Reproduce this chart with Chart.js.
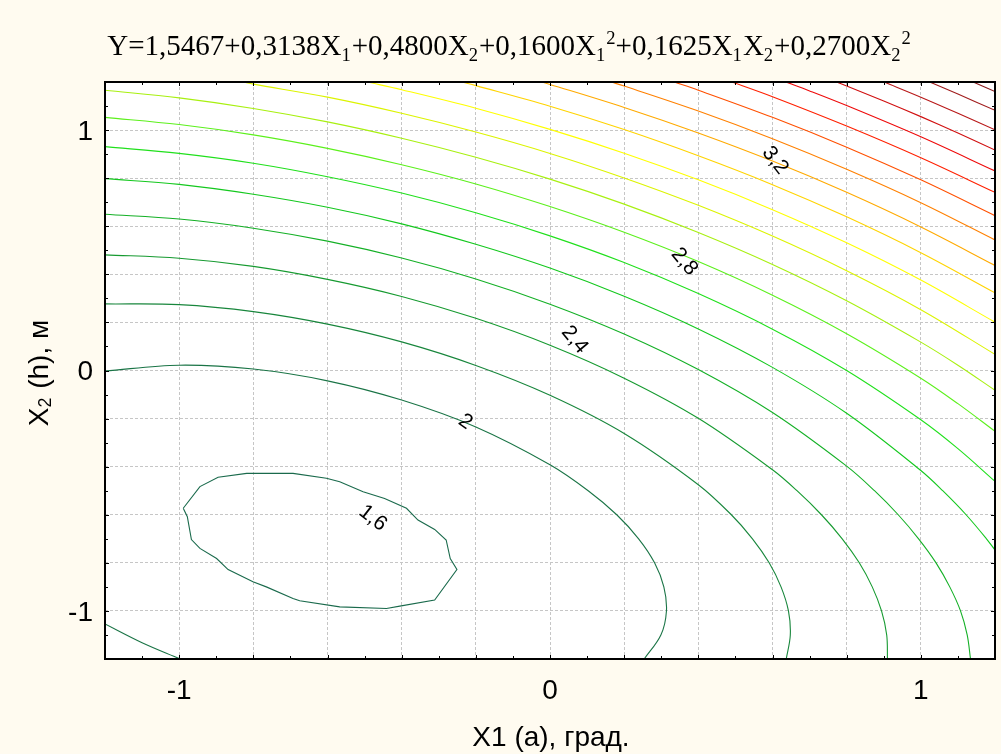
<!DOCTYPE html>
<html><head><meta charset="utf-8">
<script src="https://cdn.jsdelivr.net/npm/chart.js@4.4.1/dist/chart.umd.min.js"></script>
<style>html,body{margin:0;padding:0;background:#fffbf0;}canvas{display:block;}</style>
</head><body>
<canvas id="c" width="1001" height="754"></canvas>
<script>
// ---------- data ----------
const xTickLabels = [-1, 0, 1];
const yTickLabels = [-1, 0, 1];
const levels = [1.3, 1.4, 1.4, 1.5, 1.6, 1.7, 1.8, 1.9, 2.0, 2.1, 2.2, 2.3, 2.4, 2.5, 2.6, 2.7, 2.8, 2.9, 3.0, 3.1, 3.2, 3.3];

const c13 = [[-0.989,-0.573],[-0.944,-0.483],[-0.895,-0.444],[-0.818,-0.428],[-0.693,-0.428],[-0.603,-0.448],[-0.567,-0.463],[-0.504,-0.504],[-0.446,-0.532],[-0.387,-0.573],[-0.356,-0.622],[-0.311,-0.661],[-0.280,-0.705],[-0.269,-0.782],[-0.251,-0.828],[-0.311,-0.955],[-0.405,-0.980],[-0.441,-0.990],[-0.567,-0.983],[-0.675,-0.958],[-0.693,-0.948],[-0.765,-0.900],[-0.801,-0.879],[-0.868,-0.828],[-0.899,-0.782],[-0.944,-0.740],[-0.967,-0.703],[-0.978,-0.608],[-0.989,-0.573]];
const c14a = [[-1.2,-0.002],[-1.0,0.022],[-0.8,0.006],[-0.6,-0.043],[-0.4,-0.123],[-0.2,-0.235],[0,-0.392],[0.103,-0.5],[0.180,-0.6],[0.239,-0.7],[0.282,-0.8],[0.307,-0.9],[0.314,-1.0],[0.299,-1.1],[0.254,-1.2]];
const c14b = [[-1.2,-1.054],[-1.1,-1.132],[-1.0,-1.198],[-0.997,-1.2]];
const c15 = [[-1.2,0.277],[-1.0,0.274],[-0.8,0.245],[-0.6,0.193],[-0.4,0.119],[-0.2,0.021],[0,-0.103],[0.2,-0.262],[0.4,-0.475],[0.489,-0.6],[0.546,-0.7],[0.591,-0.8],[0.623,-0.9],[0.643,-1.0],[0.648,-1.1],[0.637,-1.2]];
const c16 = [[-1.2,0.481],[-1.0,0.467],[-0.8,0.433],[-0.6,0.379],[-0.4,0.308],[-0.2,0.217],[0,0.105],[0.2,-0.032],[0.4,-0.199],[0.6,-0.413],[0.666,-0.5],[0.732,-0.6],[0.788,-0.7],[0.834,-0.8],[0.869,-0.9],[0.894,-1.0],[0.908,-1.1],[0.910,-1.2]];
const c17 = [[-1.2,0.650],[-1.0,0.630],[-0.8,0.592],[-0.6,0.538],[-0.4,0.468],[-0.2,0.381],[0,0.276],[0.2,0.152],[0.4,0.004],[0.6,-0.175],[0.8,-0.398],[0.875,-0.5],[0.939,-0.6],[0.994,-0.7],[1.041,-0.8],[1.078,-0.9],[1.107,-1.0],[1.125,-1.1],[1.134,-1.2]];
const c18 = [[-1.2,0.798],[-1.0,0.774],[-0.8,0.733],[-0.6,0.679],[-0.4,0.610],[-0.2,0.525],[0,0.426],[0.2,0.309],[0.4,0.173],[0.6,0.013],[0.8,-0.178],[1.0,-0.416],[1.059,-0.5],[1.122,-0.6],[1.177,-0.7],[1.2,-0.747]];
const c19 = [[-1.2,0.931],[-1.0,0.903],[-0.8,0.862],[-0.6,0.806],[-0.4,0.738],[-0.2,0.656],[0,0.560],[0.2,0.449],[0.4,0.320],[0.6,0.172],[0.8,0.000],[1.0,-0.205],[1.1,-0.325],[1.2,-0.461]];
const c20 = [[-1.2,1.053],[-1.0,1.023],[-0.8,0.980],[-0.6,0.924],[-0.4,0.856],[-0.2,0.776],[0,0.682],[0.2,0.575],[0.4,0.453],[0.6,0.313],[0.8,0.153],[1.0,-0.032],[1.1,-0.138],[1.2,-0.253]];
const c21 = [[-1.2,1.166],[-1.0,1.134],[-0.8,1.090],[-0.6,1.034],[-0.4,0.966],[-0.2,0.887],[0,0.796],[0.2,0.692],[0.4,0.574],[0.6,0.441],[0.8,0.290],[1.0,0.118],[1.1,0.022],[1.2,-0.082]];
const c22 = [[-0.828,1.2],[-0.8,1.191],[-0.6,1.137],[-0.4,1.070],[-0.2,0.992],[0,0.903],[0.2,0.801],[0.4,0.687],[0.6,0.559],[0.8,0.415],[1.0,0.253],[1.2,0.067]];
const c23 = [[-0.492,1.2],[-0.4,1.168],[-0.2,1.091],[0,1.003],[0.2,0.904],[0.4,0.793],[0.6,0.669],[0.8,0.531],[1.0,0.376],[1.2,0.201]];
const c24 = [[-0.237,1.2],[-0.2,1.185],[0,1.099],[0.2,1.002],[0.4,0.893],[0.6,0.773],[0.8,0.639],[1.0,0.490],[1.2,0.323]];
const c25 = [[-0.023,1.2],[0,1.190],[0.2,1.094],[0.4,0.988],[0.6,0.871],[0.8,0.741],[1.0,0.597],[1.2,0.437]];
const c26 = [[0.165,1.2],[0.2,1.183],[0.4,1.079],[0.6,0.964],[0.8,0.837],[1.0,0.698],[1.2,0.543]];
const c27 = [[0.335,1.2],[0.4,1.166],[0.6,1.053],[0.8,0.929],[1.0,0.793],[1.2,0.644]];
const c28 = [[0.491,1.2],[0.6,1.139],[0.8,1.017],[1.0,0.885],[1.2,0.741]];
const c29 = [[0.636,1.2],[0.7,1.163],[0.8,1.102],[1.0,0.972],[1.2,0.830]];
const c30 = [[0.773,1.2],[0.8,1.183],[0.9,1.121],[1.0,1.056],[1.1,0.988],[1.2,0.917]];
const c31 = [[0.901,1.2],[1.0,1.137],[1.1,1.070],[1.2,1.001]];
const c32 = [[1.024,1.2],[1.1,1.150],[1.2,1.082]];
const c33 = [[1.141,1.2],[1.2,1.160]];
const contourPoints = [c13, c14a, c14b, c15, c16, c17, c18, c19, c20, c21, c22, c23, c24, c25, c26, c27, c28, c29, c30, c31, c32, c33];

const labelTexts = ['1,6', '2', '2,4', '2,8', '3,2'];
const labelX = [-0.478, -0.228, 0.066, 0.362, 0.607];
const labelY = [-0.614, -0.214, 0.128, 0.453, 0.874];

const titleParts = [['Y=1,5467+0,3138X',0],['1',1],['+0,4800X',0],['2',1],['+0,1600X',0],['1',1],['2',2],['+0,1625X',0],['1',1],['X',0],['2',1],['+0,2700X',0],['2',1],['2',2]];
const xTitle = 'X1 (a), град.';
const yTitleParts = [['X',0],['2',1],[' (h), м',0]];

// ---------- styles ----------
const levelColor = {
  '1.3':'#1a6a4c','1.4':'#1a7446','1.5':'#18863c','1.6':'#169a30','1.7':'#14b026','1.8':'#14c81e',
  '1.9':'#20e01c','2.0':'#5cf01c','2.1':'#a8f010','2.2':'#dcf400','2.3':'#ffff00','2.4':'#ffd400',
  '2.5':'#ffaa00','2.6':'#ff8000','2.7':'#ff5000','2.8':'#ff2000','2.9':'#ee0a0a','3.0':'#d01010',
  '3.1':'#b81818','3.2':'#a01c1c','3.3':'#8a1c1c'
};
const BG = '#fffbf0';
const SANS = '"Liberation Sans", Arial, sans-serif';
const SERIF = '"Liberation Serif", "Times New Roman", serif';

const datasets = contourPoints.map((pts, i) => ({
  data: pts.map(p => ({x: p[0], y: p[1]})),
  showLine: true,
  borderColor: levelColor[levels[i].toFixed(1)],
  borderWidth: 1.1,
  pointRadius: 0,
  pointHoverRadius: 0,
  tension: i === 0 ? 0 : 0.35,
  fill: false
}));

function drawRich(ctx, parts, size, family, draw) {
  let x = 0;
  parts.forEach(([t, m]) => {
    const s = m === 0 ? size : size * 0.64;
    ctx.font = s + 'px ' + family;
    const dy = m === 1 ? size * 0.2 : (m === 2 ? -size * 0.38 : 0);
    if (draw) ctx.fillText(t, x, dy);
    x += ctx.measureText(t).width + (m === 1 ? 1 : 0);
  });
  return x;
}

const deco = {
  id: 'deco',
  beforeDraw(chart) {
    const {ctx, chartArea: a} = chart;
    ctx.save();
    ctx.fillStyle = BG;
    ctx.fillRect(0, 0, chart.width, chart.height);
    ctx.fillStyle = '#ffffff';
    ctx.fillRect(a.left, a.top, a.right - a.left, a.bottom - a.top);
    ctx.restore();
  },
  afterDraw(chart) {
    const {ctx, chartArea: a, scales} = chart;
    const xs = scales.x, ys = scales.y;
    ctx.save();
    // inward ticks
    ctx.strokeStyle = '#000';
    ctx.lineWidth = 1;
    ctx.beginPath();
    for (let i = -11; i <= 11; i++) {
      const len = (i % 2 === 0) ? 4 : 3;
      const px = Math.round(xs.getPixelForValue(i / 10)) + 0.5;
      ctx.moveTo(px, a.bottom); ctx.lineTo(px, a.bottom - len);
      ctx.moveTo(px, a.top); ctx.lineTo(px, a.top + len);
      const py = Math.round(ys.getPixelForValue(i / 10)) + 0.5;
      ctx.moveTo(a.left, py); ctx.lineTo(a.left + len, py);
      ctx.moveTo(a.right, py); ctx.lineTo(a.right - len, py);
    }
    ctx.stroke();
    // frame
    ctx.lineWidth = 2;
    ctx.strokeRect(a.left, a.top, a.right - a.left, a.bottom - a.top);
    // contour labels
    ctx.fillStyle = '#000';
    ctx.font = '21px ' + SANS;
    ctx.textAlign = 'center';
    ctx.textBaseline = 'middle';
    const rot = [38, 35, 50, 50, 52];
    labelTexts.forEach((t, i) => {
      const px = xs.getPixelForValue(labelX[i]);
      const py = ys.getPixelForValue(labelY[i]);
      ctx.save();
      ctx.translate(px, py);
      ctx.rotate(rot[i] * Math.PI / 180);
      ctx.fillText(t, 0, 0);
      ctx.restore();
    });
    // title
    ctx.textAlign = 'left';
    ctx.textBaseline = 'alphabetic';
    const tSize = 29;
    const tw = drawRich(ctx, titleParts, tSize, SERIF, false);
    ctx.save();
    ctx.translate(509 - tw / 2, 55);
    drawRich(ctx, titleParts, tSize, SERIF, true);
    ctx.restore();
    // x title
    ctx.font = '28px ' + SANS;
    ctx.textAlign = 'center';
    ctx.textBaseline = 'middle';
    ctx.fillText(xTitle, 551, 738);
    // y title
    ctx.textAlign = 'left';
    ctx.textBaseline = 'middle';
    const ySize = 28;
    const yw = drawRich(ctx, yTitleParts, ySize, SANS, false);
    ctx.save();
    ctx.translate(40, 373 + yw / 2);
    ctx.rotate(-Math.PI / 2);
    drawRich(ctx, yTitleParts, ySize, SANS, true);
    ctx.restore();
    ctx.restore();
  }
};

const intLabel = (v) => {
  const r = Math.round(v);
  return Math.abs(v - r) < 1e-6 ? String(r) : '';
};

new Chart(document.getElementById('c'), {
  type: 'scatter',
  data: {datasets},
  options: {
    responsive: false,
    animation: false,
    events: [],
    layout: {padding: {top: 82, right: 6, left: 0, bottom: 0}},
    plugins: {legend: {display: false}, tooltip: {enabled: false}, title: {display: false}},
    scales: {
      x: {
        type: 'linear', min: -1.2, max: 1.2,
        afterFit: (s) => { s.height = 95; s.paddingLeft = 0; s.paddingRight = 0; },
        border: {display: false, dash: [3, 2]},
        grid: {color: '#c6c6c6', lineWidth: 1, drawTicks: false},
        ticks: {stepSize: 0.2, autoSkip: false, maxRotation: 0, padding: 15, color: '#000',
          font: {family: SANS, size: 28},
          callback: (v) => { const l = intLabel(v); return l !== '' && xTickLabels.includes(Number(l)) ? l : ''; }}
      },
      y: {
        type: 'linear', min: -1.2, max: 1.2,
        afterFit: (s) => { s.width = 105; s.paddingTop = 0; s.paddingBottom = 0; },
        border: {display: false, dash: [3, 2]},
        grid: {color: '#c6c6c6', lineWidth: 1, drawTicks: false},
        ticks: {stepSize: 0.2, autoSkip: false, padding: 12, labelOffset: 2, color: '#000',
          font: {family: SANS, size: 28},
          callback: (v) => { const l = intLabel(v); return l !== '' && yTickLabels.includes(Number(l)) ? l : ''; }}
      }
    }
  },
  plugins: [deco]
});
</script>
</body></html>
